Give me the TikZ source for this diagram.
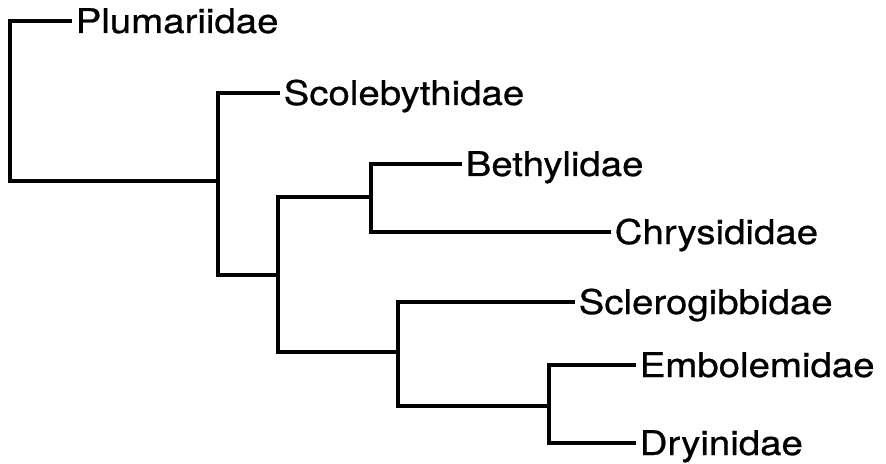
\documentclass[tikz,border=0pt]{standalone}
\usepackage{fontspec}
\setmainfont[FakeStretch=1.13, FakeBold=0.7]{TeX Gyre Heros}

\begin{document}
\begin{tikzpicture}[x=0.5pt, y=-0.5pt, line width=1.7pt,
    taxon/.style={anchor=west, inner xsep=1pt, inner ysep=0pt,
      text height=12pt, text depth=0pt, font=\fontsize{17}{20}\selectfont}]
    \useasboundingbox (0,0) rectangle (886,464);

    % taxa
    \node[taxon] (plum) at (72, 21)  {Plumariidae};
    \node[taxon] (scol) at (280, 93)  {Scolebythidae};
    \node[taxon] (beth) at (462, 164) {Bethylidae};
    \node[taxon] (chry) at (611, 232) {Chrysididae};
    \node[taxon] (scle) at (575, 302) {Sclerogibbidae};
    \node[taxon] (embo) at (636, 365) {Embolemidae};
    \node[taxon] (dryi) at (636, 443) {Dryinidae};

    % branch points
    \coordinate (root) at (10, 181);
    \coordinate (cA) at (218, 181);
    \coordinate (cB) at (278, 275);
    \coordinate (cC) at (371, 197);
    \coordinate (cD) at (398, 352);
    \coordinate (cE) at (549, 406);

    % branches
    \draw (plum.west) -| (root) -- (cA);
    \draw (cA) |- (scol.west);
    \draw (cA) |- (cB);
    \draw (cB) |- (cC);
    \draw (cB) |- (cD);
    \draw (cC) |- (beth.west);
    \draw (cC) |- (chry.west);
    \draw (cD) |- (scle.west);
    \draw (cD) |- (cE);
    \draw (cE) |- (embo.west);
    \draw (cE) |- (dryi.west);
  \end{tikzpicture}
\end{document}
